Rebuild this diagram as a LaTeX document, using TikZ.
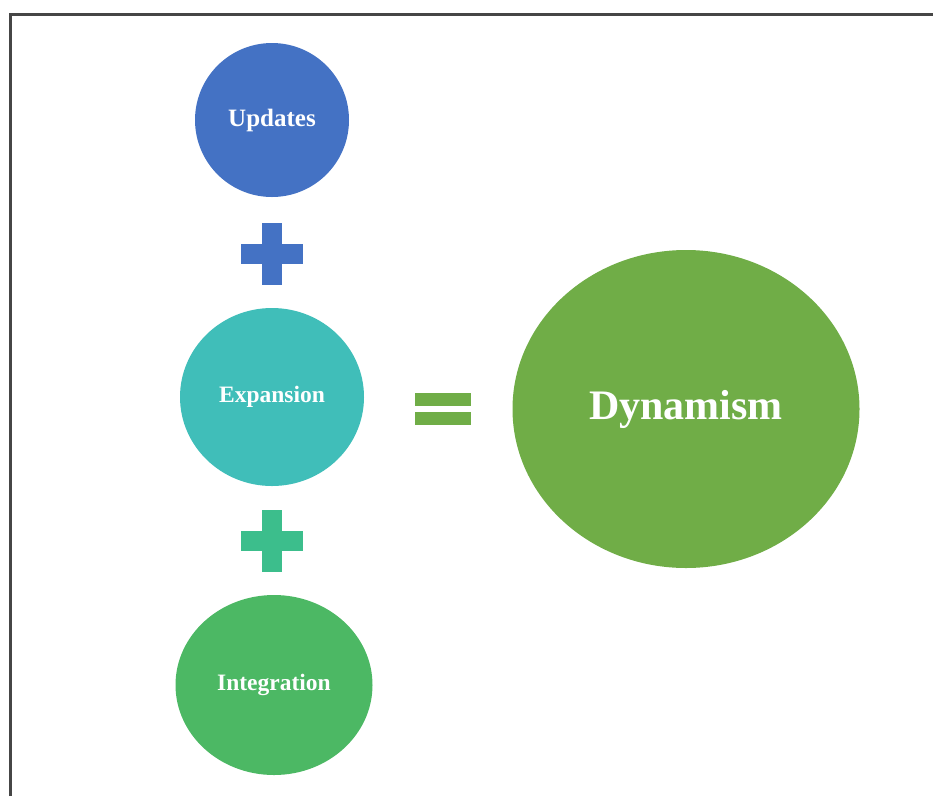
\documentclass[tikz,border=0pt]{standalone}
\usepackage{fontspec}
\setmainfont{Liberation Serif}
\usetikzlibrary{shapes.geometric,positioning,calc}
\definecolor{DynBlue}{RGB}{68,114,196}
\definecolor{DynTeal}{RGB}{64,190,185}
\definecolor{DynMint}{RGB}{60,190,140}
\definecolor{DynGreen}{RGB}{76,184,100}
\definecolor{DynLeaf}{RGB}{112,173,71}
\definecolor{DynFrame}{RGB}{70,70,70}

\begin{document}
\begin{tikzpicture}[x=1pt, y=-1pt]
    \tikzstyle{blob}=[ellipse, inner sep=0pt, text=white, font=\bfseries]
    \useasboundingbox (0,0) rectangle (933,796);
    % frame, only top and left edges show
    \draw[DynFrame, line width=3pt] (10,796) -- (10,14) -- (933,14);

    \node[blob, fill=DynBlue, minimum width=154pt, minimum height=154pt, font=\bfseries\fontsize{25}{30}\selectfont] (updates) at (272,120) {Updates};
    \node[blob, fill=DynTeal, minimum width=184pt, minimum height=178pt, font=\bfseries\fontsize{23.5}{28}\selectfont] (expansion) at (272,397) {Expansion};
    \node[blob, fill=DynGreen, minimum width=197pt, minimum height=180pt, font=\bfseries\fontsize{23.5}{28}\selectfont] (integration) at (274,685) {Integration};
    \node[blob, fill=DynLeaf, minimum width=347pt, minimum height=318pt, font=\bfseries\fontsize{42}{50}\selectfont] (dynamism) at (686,409) {Dynamism};

    % plus and equals signs
    \coordinate (plusA) at (272,254);
    \coordinate (plusB) at (272,541);
    \coordinate (equals) at (443,409);
    \foreach \c/\col in {plusA/DynBlue, plusB/DynMint} {
        \fill[\col] ($(\c)+(-31,-10)$) rectangle ($(\c)+(31,10)$);
        \fill[\col] ($(\c)+(-10,-31)$) rectangle ($(\c)+(10,31)$);
    }
    \fill[DynLeaf] ($(equals)+(-28,-16)$) rectangle ($(equals)+(28,-3)$);
    \fill[DynLeaf] ($(equals)+(-28,3)$) rectangle ($(equals)+(28,16)$);
\end{tikzpicture}
\end{document}
